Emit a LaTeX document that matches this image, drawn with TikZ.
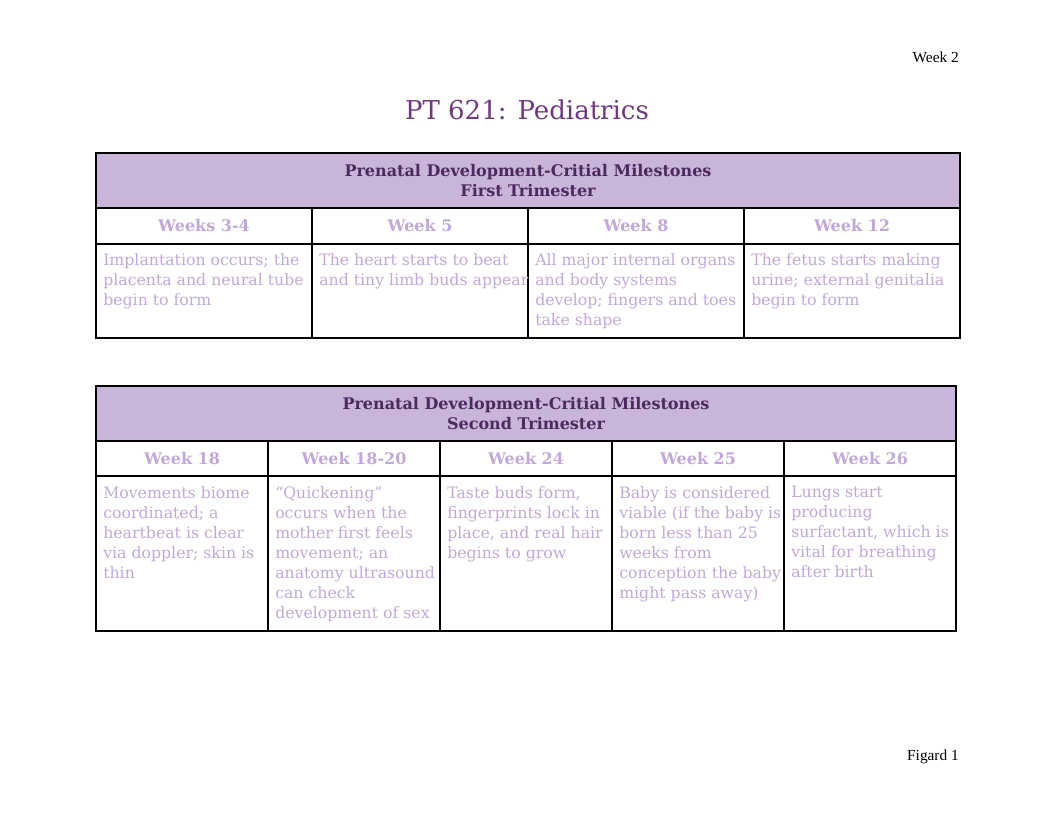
\documentclass[tikz,border=0pt]{standalone}
\usepackage{fontspec}
\setmainfont{DejaVu Serif}
\newfontfamily\timesf{Liberation Serif}
\definecolor{ttl}{HTML}{6E3A80}
\definecolor{hdfill}{HTML}{C9B5D9}
\definecolor{hdtext}{HTML}{4B2A5E}
\definecolor{light}{HTML}{C2A8D8}
\begin{document}
\begin{tikzpicture}[x=0.75pt,y=-0.75pt,
  hd/.style={font=\fontsize{12}{15}\selectfont\bfseries, text=hdtext, align=center},
  ch/.style={font=\fontsize{12}{15}\selectfont\bfseries, text=light},
  bd/.style={font=\fontsize{11.8}{15}\selectfont, text=light, align=left, anchor=north west, inner sep=0pt},
  grid/.style={draw=black, line width=0.8pt}]
\useasboundingbox (0,0) rectangle (1055,815);
\node[font=\timesf\fontsize{11.5}{13}\selectfont, anchor=base east, inner sep=0pt] (wk) at (959,62) {Week 2};
\node[font=\fontsize{19.5}{24}\selectfont, text=ttl] (title) at (527,110) {PT 621: Pediatrics};
\node[font=\timesf\fontsize{11.5}{13}\selectfont, anchor=base east, inner sep=0pt] (fig) at (959,760) {Figard 1};
% Table 1
\fill[hdfill] (96,153) rectangle (960,208);
\draw[grid] (96,153) rectangle (960,338);
\draw[grid] (96,208) -- (960,208) (96,244) -- (960,244);
\foreach \x in {312,528,744} \draw[grid] (\x,208) -- (\x,338);
\node[hd] (h1) at (528,181) {Prenatal Development-Critial Milestones\\First Trimester};
\node[ch] (c11) at (204,226) {Weeks 3-4};
\node[ch] (c12) at (420,226) {Week 5};
\node[ch] (c13) at (636,226) {Week 8};
\node[ch] (c14) at (852,226) {Week 12};
\node[bd] (b11) at (103,253) {Implantation occurs; the\\placenta and neural tube\\begin to form};
\node[bd] (b12) at (319,253) {The heart starts to beat\\and tiny limb buds appear};
\node[bd] (b13) at (535,253) {All major internal organs\\and body systems\\develop; fingers and toes\\take shape};
\node[bd] (b14) at (751,253) {The fetus starts making\\urine; external genitalia\\begin to form};
% Table 2
\fill[hdfill] (96,386) rectangle (956,441);
\draw[grid] (96,386) rectangle (956,631);
\draw[grid] (96,441) -- (956,441) (96,476) -- (956,476);
\foreach \x in {268,440,612,784} \draw[grid] (\x,441) -- (\x,631);
\node[hd] (h2) at (526,414) {Prenatal Development-Critial Milestones\\Second Trimester};
\node[ch] (c21) at (182,459) {Week 18};
\node[ch] (c22) at (354,459) {Week 18-20};
\node[ch] (c23) at (526,459) {Week 24};
\node[ch] (c24) at (698,459) {Week 25};
\node[ch] (c25) at (870,459) {Week 26};
\node[bd] (b21) at (103,486) {Movements biome\\coordinated; a\\heartbeat is clear\\via doppler; skin is\\thin};
\node[bd] (b22) at (275,486) {“Quickening”\\occurs when the\\mother first feels\\movement; an\\anatomy ultrasound\\can check\\development of sex};
\node[bd] (b23) at (447,486) {Taste buds form,\\fingerprints lock in\\place, and real hair\\begins to grow};
\node[bd] (b24) at (619,486) {Baby is considered\\viable (if the baby is\\born less than 25\\weeks from\\conception the baby\\might pass away)};
\node[bd] (b25) at (791,486) {Lungs start\\producing\\surfactant, which is\\vital for breathing\\after birth};
\end{tikzpicture}
\end{document}
